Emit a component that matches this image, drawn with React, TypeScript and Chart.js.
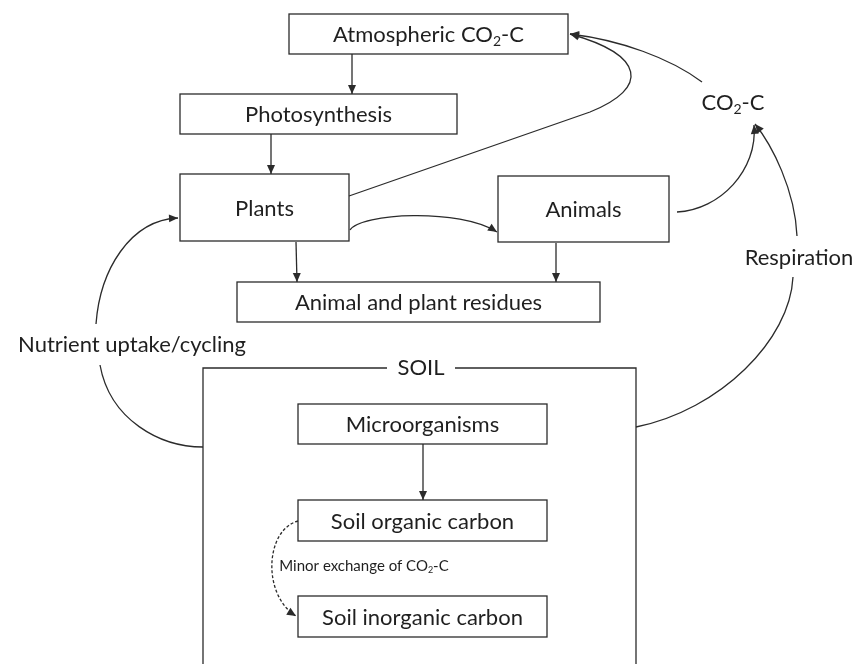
import React, { useEffect, useRef } from "react";
import { Chart, registerables } from "chart.js";

Chart.register(...registerables);

// ---- Diagram data (diagram units; axis spans 0..855 x 0..664) ----
const boxLabels = [
  "Atmospheric CO{2}-C",
  "Photosynthesis",
  "Plants",
  "Animals",
  "Animal and plant residues",
  "Microorganisms",
  "Soil organic carbon",
  "Soil inorganic carbon",
];
const boxLeft = [289, 180, 180, 498, 237, 298, 298, 298];
const boxTop = [14, 94, 174, 176, 282, 404, 500, 596];
const boxRight = [568, 457, 349, 669, 600, 547, 547, 547];
const boxBottom = [54, 134, 241, 242, 322, 444, 541, 637];

const freeLabels = ["CO{2}-C", "Respiration", "Nutrient uptake/cycling", "Minor exchange of CO{2}-C"];
const freeX = [733, 799, 132, 364];
const freeY = [103, 258, 345, 566];
const freeSmall = [false, false, false, true];

const soilLabel = "SOIL";
const soilFrame = { left: 203, top: 368, right: 636, bottom: 700, gapL: 387, gapR: 455 };

// edges: list of points; "L" line segments or "C" cubic (3 points each)
type Seg = { t: "M" | "L" | "C"; p: number[] };
const edges: { segs: Seg[]; arrow: boolean; dashed?: boolean }[] = [
  { segs: [{ t: "M", p: [352, 54] }, { t: "L", p: [352, 94] }], arrow: true },
  { segs: [{ t: "M", p: [271, 134] }, { t: "L", p: [271, 174] }], arrow: true },
  { segs: [{ t: "M", p: [296, 242] }, { t: "L", p: [297, 282] }], arrow: true },
  { segs: [{ t: "M", p: [556, 243] }, { t: "L", p: [556, 282] }], arrow: true },
  { segs: [{ t: "M", p: [423, 444] }, { t: "L", p: [423, 500] }], arrow: true },
  { segs: [{ t: "M", p: [350, 230] }, { t: "C", p: [360, 213, 460, 208, 497, 232] }], arrow: true },
  {
    segs: [
      { t: "M", p: [349, 196] },
      { t: "L", p: [590, 112] },
      { t: "C", p: [650, 88, 645, 55, 570, 34] },
    ],
    arrow: true,
  },
  { segs: [{ t: "M", p: [702, 82] }, { t: "C", p: [670, 58, 620, 40, 570, 34] }], arrow: true },
  { segs: [{ t: "M", p: [677, 212] }, { t: "C", p: [720, 210, 758, 170, 754, 125] }], arrow: true },
  { segs: [{ t: "M", p: [636, 427] }, { t: "C", p: [720, 410, 790, 340, 793, 277] }], arrow: false },
  { segs: [{ t: "M", p: [797, 236] }, { t: "C", p: [795, 190, 772, 145, 755, 124] }], arrow: true },
  { segs: [{ t: "M", p: [203, 447] }, { t: "C", p: [160, 447, 110, 420, 100, 365] }], arrow: false },
  { segs: [{ t: "M", p: [96, 324] }, { t: "C", p: [100, 270, 130, 220, 178, 218] }], arrow: true },
  { segs: [{ t: "M", p: [298, 521] }, { t: "C", p: [265, 530, 262, 595, 296, 616] }], arrow: true, dashed: true },
];

const FONT = "Lato, 'Open Sans', sans-serif";
const TEXT_COLOR = "#1f1f1f";
const LINE_COLOR = "#2b2b2b";
const MAIN_SIZE = 22;
const SMALL_SIZE = 15;

function parseRich(s: string) {
  const parts: { text: string; sub: boolean }[] = [];
  const re = /\{([^}]*)\}/g;
  let last = 0;
  let m: RegExpExecArray | null;
  while ((m = re.exec(s))) {
    if (m.index > last) parts.push({ text: s.slice(last, m.index), sub: false });
    parts.push({ text: m[1], sub: true });
    last = m.index + m[0].length;
  }
  if (last < s.length) parts.push({ text: s.slice(last), sub: false });
  return parts;
}

function drawRich(ctx: CanvasRenderingContext2D, s: string, cx: number, cy: number, size: number) {
  const parts = parseRich(s);
  const subSize = Math.round(size * 0.62);
  let total = 0;
  const widths = parts.map((p) => {
    ctx.font = `${p.sub ? subSize : size}px ${FONT}`;
    const w = ctx.measureText(p.text).width;
    total += w;
    return w;
  });
  let x = cx - total / 2;
  ctx.textBaseline = "middle";
  ctx.textAlign = "left";
  ctx.fillStyle = TEXT_COLOR;
  parts.forEach((p, i) => {
    ctx.font = `${p.sub ? subSize : size}px ${FONT}`;
    ctx.fillText(p.text, x, p.sub ? cy + size * 0.3 : cy);
    x += widths[i];
  });
}

const diagramPlugin = {
  id: "diagram",
  afterDatasetsDraw(chart: any) {
    const ctx: CanvasRenderingContext2D = chart.ctx;
    const xs = chart.scales.x;
    const ys = chart.scales.y;
    const X = (v: number) => xs.getPixelForValue(v);
    const Y = (v: number) => ys.getPixelForValue(v);
    ctx.save();
    ctx.strokeStyle = LINE_COLOR;
    ctx.fillStyle = LINE_COLOR;
    ctx.lineWidth = 1.3;

    // boxes
    boxLabels.forEach((lab, i) => {
      const x0 = X(boxLeft[i]), y0 = Y(boxTop[i]), x1 = X(boxRight[i]), y1 = Y(boxBottom[i]);
      ctx.strokeStyle = LINE_COLOR;
      ctx.lineWidth = 1.3;
      ctx.strokeRect(x0, y0, x1 - x0, y1 - y0);
      drawRich(ctx, lab, (x0 + x1) / 2, (y0 + y1) / 2 + 1, MAIN_SIZE);
    });

    // soil frame
    ctx.beginPath();
    ctx.moveTo(X(soilFrame.gapL), Y(soilFrame.top));
    ctx.lineTo(X(soilFrame.left), Y(soilFrame.top));
    ctx.lineTo(X(soilFrame.left), Y(soilFrame.bottom));
    ctx.moveTo(X(soilFrame.gapR), Y(soilFrame.top));
    ctx.lineTo(X(soilFrame.right), Y(soilFrame.top));
    ctx.lineTo(X(soilFrame.right), Y(soilFrame.bottom));
    ctx.stroke();
    drawRich(ctx, soilLabel, X((soilFrame.gapL + soilFrame.gapR) / 2), Y(soilFrame.top), MAIN_SIZE);

    // free labels
    freeLabels.forEach((lab, i) => {
      drawRich(ctx, lab, X(freeX[i]), Y(freeY[i]), freeSmall[i] ? SMALL_SIZE : MAIN_SIZE);
    });

    // edges
    edges.forEach((e) => {
      ctx.strokeStyle = LINE_COLOR;
      ctx.lineWidth = 1.3;
      ctx.setLineDash(e.dashed ? [3, 2] : []);
      ctx.beginPath();
      let prev = [0, 0];
      let end = [0, 0];
      e.segs.forEach((s) => {
        if (s.t === "M") {
          ctx.moveTo(X(s.p[0]), Y(s.p[1]));
          end = [s.p[0], s.p[1]];
        } else if (s.t === "L") {
          prev = end;
          ctx.lineTo(X(s.p[0]), Y(s.p[1]));
          end = [s.p[0], s.p[1]];
        } else {
          ctx.bezierCurveTo(X(s.p[0]), Y(s.p[1]), X(s.p[2]), Y(s.p[3]), X(s.p[4]), Y(s.p[5]));
          prev = [s.p[2], s.p[3]];
          end = [s.p[4], s.p[5]];
        }
      });
      ctx.stroke();
      ctx.setLineDash([]);
      if (e.arrow) {
        const ex = X(end[0]), ey = Y(end[1]);
        const ang = Math.atan2(ey - Y(prev[1]), ex - X(prev[0]));
        const len = 9, half = 4;
        ctx.beginPath();
        ctx.moveTo(ex, ey);
        ctx.lineTo(ex - len * Math.cos(ang) + half * Math.sin(ang), ey - len * Math.sin(ang) - half * Math.cos(ang));
        ctx.lineTo(ex - len * Math.cos(ang) - half * Math.sin(ang), ey - len * Math.sin(ang) + half * Math.cos(ang));
        ctx.closePath();
        ctx.fillStyle = LINE_COLOR;
        ctx.fill();
      }
    });
    ctx.restore();
  },
};

export default function App() {
  const ref = useRef<HTMLCanvasElement | null>(null);
  useEffect(() => {
    document.body.style.margin = "0";
    const canvas = ref.current!;
    const chart = new Chart(canvas, {
      type: "scatter",
      data: {
        datasets: [
          {
            data: boxLabels.map((_, i) => ({
              x: (boxLeft[i] + boxRight[i]) / 2,
              y: (boxTop[i] + boxBottom[i]) / 2,
            })),
            pointRadius: 0,
          },
        ],
      },
      options: {
        responsive: false,
        animation: false,
        layout: { padding: 0 },
        plugins: { legend: { display: false }, tooltip: { enabled: false } },
        scales: {
          x: { type: "linear", min: 0, max: 855, display: false },
          y: { type: "linear", min: 0, max: 664, reverse: true, display: false },
        },
      },
      plugins: [diagramPlugin],
    });
    return () => chart.destroy();
  }, []);
  return (
    <div style={{ width: 855, height: 664, background: "#fff" }}>
      <canvas ref={ref} width={855} height={664} />
    </div>
  );
}
